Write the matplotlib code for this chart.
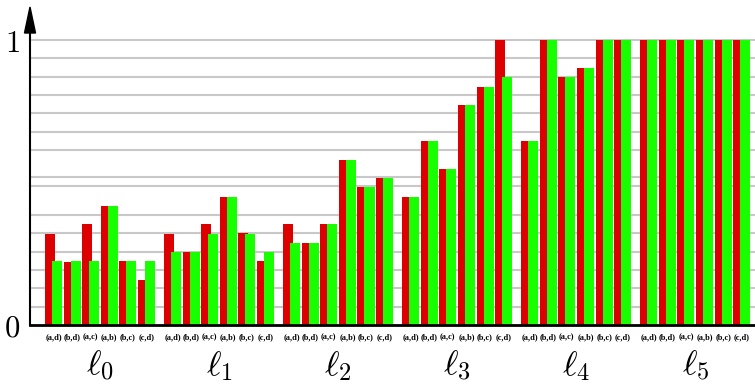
import matplotlib
matplotlib.use("Agg")
import matplotlib.pyplot as plt
from matplotlib.patches import Polygon
import matplotlib.transforms as mtransforms

plt.rcParams["mathtext.fontset"] = "cm"

levels = [r"$\ell_0$", r"$\ell_1$", r"$\ell_2$", r"$\ell_3$", r"$\ell_4$", r"$\ell_5$"]
pairs = ["(a,d)", "(b,d)", "(a,c)", "(a,b)", "(b,c)", "(c,d)"]

red_vals = [
    [0.319, 0.221, 0.354, 0.4175, 0.2246, 0.158],
    [0.319, 0.256, 0.354, 0.449, 0.3228, 0.2246],
    [0.354, 0.2877, 0.354, 0.579, 0.484, 0.516],
    [0.449, 0.6456, 0.547, 0.772, 0.835, 1.0],
    [0.6456, 1.0, 0.870, 0.9018, 1.0, 1.0],
    [1.0, 1.0, 1.0, 1.0, 1.0, 1.0],
]
green_vals = [
    [0.2246, 0.2246, 0.2246, 0.4175, 0.2246, 0.2246],
    [0.256, 0.256, 0.319, 0.449, 0.319, 0.256],
    [0.2877, 0.2877, 0.354, 0.579, 0.484, 0.516],
    [0.449, 0.6456, 0.547, 0.772, 0.835, 0.870],
    [0.6456, 1.0, 0.870, 0.9018, 1.0, 1.0],
    [1.0, 1.0, 1.0, 1.0, 1.0, 1.0],
]
grid_levels = [0.0643, 0.1287, 0.193, 0.2573, 0.3216, 0.386, 0.488, 0.519,
               0.614, 0.678, 0.743, 0.807, 0.871, 0.936, 1.0]

RED = "#dd0000"
GREEN = "#18ff00"
GROUP_STEP = 6.4
BAR_W = 0.54
GREEN_OFF = 0.376

W, H = 755, 384
fig = plt.figure(figsize=(W / 100, H / 100), dpi=100)
ax = fig.add_axes([30 / W, 59 / H, 725 / W, 320 / H])
ax.set_xlim(-0.806, -0.806 + 725 / 18.6)
ax.set_ylim(0, 1.123)

for yv in grid_levels:
    ax.axhline(yv, color="#c8c8c8", lw=1.5, zorder=0)

trans = mtransforms.blended_transform_factory(ax.transData, ax.transAxes)

for g in range(len(levels)):
    for i, p in enumerate(pairs):
        x0 = g * GROUP_STEP + i
        ax.bar(x0, red_vals[g][i], width=BAR_W, align="edge", color=RED, zorder=2, lw=0)
        ax.bar(x0 + GREEN_OFF, green_vals[g][i], width=BAR_W, align="edge", color=GREEN, zorder=3, lw=0)
        ax.text(x0 + (GREEN_OFF + BAR_W) / 2, -0.045, p, transform=trans,
                ha="center", va="baseline", fontsize=6, fontweight="bold",
                family="Liberation Serif")

ax.set_xticks([])

ax.set_yticks([0, 1])
ax.set_yticklabels([r"$0$", r"$1$"], fontsize=22)
ax.tick_params(axis="y", length=0, pad=7)

for g, lab in enumerate(levels):
    cx = g * GROUP_STEP + (5 + GREEN_OFF + BAR_W) / 2
    ax.text(cx, -0.128, lab, transform=trans, ha="center", va="center", fontsize=25)

for s in ["top", "right"]:
    ax.spines[s].set_visible(False)
ax.spines["bottom"].set_linewidth(2)
ax.spines["bottom"].set_zorder(4)
ax.spines["left"].set_linewidth(1.5)
ax.spines["left"].set_bounds(0, 1.08)

# arrow head on the vertical axis
tip = (30 / W, 1 - 7 / H)
arrow = Polygon([(tip[0], tip[1]), (tip[0] - 5.5 / W, 1 - 33 / H), (tip[0] + 5.5 / W, 1 - 33 / H)],
                closed=True, transform=fig.transFigure, color="black", zorder=5)
fig.patches.append(arrow)

fig.savefig("out.png", dpi=100)
